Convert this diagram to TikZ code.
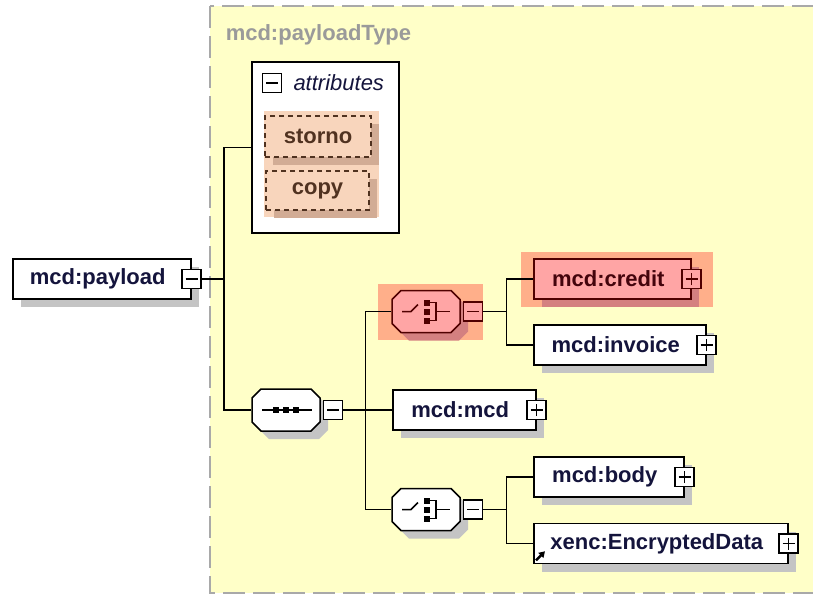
\documentclass[tikz,border=0pt]{standalone}
\usepackage{fontspec}
\setmainfont{Liberation Sans}
\usetikzlibrary{shadows,arrows.meta,positioning}

\definecolor{xsdyellow}{HTML}{FFFFC8}
\definecolor{xsdgray}{HTML}{9A9A9A}
\definecolor{xsdnavy}{HTML}{14143C}
\definecolor{shadowgray}{HTML}{C4C4C4}
\definecolor{attrbg}{HTML}{F8D5BC}
\definecolor{attrshadow}{HTML}{D2AC95}
\definecolor{attrtext}{HTML}{503220}
\definecolor{hilite}{HTML}{FFAF8A}
\definecolor{redfill}{HTML}{FFA5A5}
\definecolor{redline}{HTML}{500000}
\definecolor{redshadow}{HTML}{D48080}

\begin{document}
\begin{tikzpicture}[x=1pt,y=-1pt,line width=1.5pt,
  shd/.style={drop shadow={shadow xshift=8pt,shadow yshift=-8pt,fill=#1,opacity=1}},
  elem/.style={rectangle, draw, fill=white, minimum height=40pt, inner sep=0pt, anchor=west,
    font=\fontsize{22}{26}\selectfont\bfseries, text=xsdnavy, execute at end node=\hspace*{8pt}, shd=#1},
  elem/.default=shadowgray,
  pmbox/.style={rectangle, draw=#1, fill=white, minimum size=19pt, inner sep=0pt},
  pbox/.style={pmbox=#1, path picture={\draw[#1,line width=1.5pt]
    ([xshift=-6pt]path picture bounding box.center) -- ([xshift=6pt]path picture bounding box.center)
    ([yshift=-6pt]path picture bounding box.center) -- ([yshift=6pt]path picture bounding box.center);}},
  pbox/.default=black,
  mbox/.style={pmbox=#1, path picture={\draw[#1,line width=1.5pt]
    ([xshift=-6pt]path picture bounding box.center) -- ([xshift=6pt]path picture bounding box.center);}},
  mbox/.default=black,
  octbox/.style={rectangle, minimum width=68pt, minimum height=42pt, inner sep=0pt},
  octline/.style={shd=#1},
  octline/.default=shadowgray,
  attr/.style={rectangle, draw=attrtext, dash pattern=on 5pt off 4pt, fill=attrbg, inner sep=0pt,
    font=\fontsize{22}{26}\selectfont\bfseries, text=attrtext, shd=attrshadow}]

  \useasboundingbox (0,0) rectangle (813,595);

  % complex type area
  \draw[draw=xsdgray!85, fill=xsdyellow, line width=2pt, dash pattern=on 22pt off 8pt] (210,6) rectangle (840,593);
  \node (typename) [anchor=west, inner sep=3pt, text=xsdgray, font=\fontsize{22}{26}\selectfont\bfseries] at (222,35) {mcd:payloadType};

  % attributes
  \node (attrs) [rectangle, draw, fill=white, minimum width=147pt, minimum height=171pt, inner sep=0pt] at (325.5,147.5) {};
  \node (attrpm) [mbox] at (272,83) {};
  \node (attrlbl) [right=7.5pt of attrpm, inner sep=3pt, text=xsdnavy, font=\fontsize{22}{26}\selectfont\itshape] {attributes};
  \fill[attrbg] (264,111) rectangle (379,217);
  \node (storno) [attr, minimum width=106pt, minimum height=41pt] at (318,136.5) {storno};
  \node (copy) [attr, minimum width=103pt, minimum height=39pt] at (317.5,190.5) {copy};

  % highlights
  \fill[hilite] (521,252) rectangle (713,307);
  \fill[hilite] (378,284) rectangle (483,340);

  % elements
  \node (payload) [elem, minimum width=178pt] at (12,279) {mcd:payload};
  \node (pmpay) [mbox] at (payload.east) {};
  \node (credit) [elem=redshadow, fill=redfill, draw=redline, text=redline!80!xsdnavy, minimum width=157pt] at (533,279) {mcd:credit};
  \node (pmcredit) [pbox=redline, fill=redfill] at (credit.east) {};
  \node (invoice) [elem, minimum width=172pt] at (533,345) {mcd:invoice};
  \node (pminvoice) [pbox] at (invoice.east) {};
  \node (mcd) [elem, minimum width=143pt] at (392,410) {mcd:mcd};
  \node (pmmcd) [pbox] at (mcd.east) {};
  \node (body) [elem, minimum width=150pt] at (533,477) {mcd:body};
  \node (pmbody) [pbox] at (body.east) {};
  \node (encdata) [elem, minimum width=254pt] at (533,543.5) {xenc:EncryptedData};
  \node (pmenc) [pbox] at (encdata.east) {};
  \draw[line width=2.5pt, -{Triangle[length=6pt,width=7pt]}] ([shift={(3pt,4pt)}]encdata.south west) -- ++(9pt,9pt);

  % compositors
  \node (seq) [octbox] at (286,410) {};
  \node (ch1) [octbox] at (426,311.5) {};
  \node (ch2) [octbox] at (426,509.5) {};

  \begin{scope}[shift={(seq.center)}]
    \filldraw[octline, fill=white] (-34,-12) -- (-25,-21) -- (25,-21) -- (34,-12) -- (34,12) -- (25,21) -- (-25,21) -- (-34,12) -- cycle;
    \draw (-24,0) -- (26,0);
    \fill (-13,-3) rectangle ++(6,6);
    \fill (-3,-3) rectangle ++(6,6);
    \fill (7,-3) rectangle ++(6,6);
  \end{scope}
  \begin{scope}[shift={(ch1.center)}, redline]
    \filldraw[octline=redshadow, fill=redfill] (-34,-12) -- (-25,-21) -- (25,-21) -- (34,-12) -- (34,12) -- (25,21) -- (-25,21) -- (-34,12) -- cycle;
    \draw (-24,0) -- (-15,0) -- (-8,-7);
    \fill (-2,-12) rectangle ++(6,6);
    \fill (-2,-3) rectangle ++(6,6);
    \fill (-2,6) rectangle ++(6,6);
    \draw (4,-9) -- (10,-9) -- (10,9) -- (4,9);
    \draw (10,0) -- (24,0);
  \end{scope}
  \begin{scope}[shift={(ch2.center)}]
    \filldraw[octline, fill=white] (-34,-12) -- (-25,-21) -- (25,-21) -- (34,-12) -- (34,12) -- (25,21) -- (-25,21) -- (-34,12) -- cycle;
    \draw (-24,0) -- (-15,0) -- (-8,-7);
    \fill (-2,-12) rectangle ++(6,6);
    \fill (-2,-3) rectangle ++(6,6);
    \fill (-2,6) rectangle ++(6,6);
    \draw (4,-9) -- (10,-9) -- (10,9) -- (4,9);
    \draw (10,0) -- (24,0);
  \end{scope}

  \node (pmseq) [mbox, right=2pt of seq] {};
  \node (pmch1) [mbox=redline, fill=redfill, right=2pt of ch1] {};
  \node (pmch2) [mbox, right=2pt of ch2] {};

  % connectors
  \coordinate (j1) at ([xshift=22pt]pmpay.east);
  \coordinate (j2) at ([xshift=22pt]pmseq.east);
  \coordinate (j3) at ([xshift=23pt]pmch1.east);
  \coordinate (j4) at ([xshift=23pt]pmch2.east);
  \draw (pmpay.east) -- (j1);
  \draw (attrs.west) -| (j1) |- (seq.west);
  \draw (pmseq.east) -- (mcd.west);
  \draw (ch1.west) -| (j2) |- (ch2.west);
  \draw (pmch1.east) -- (j3);
  \draw (credit.west) -| (j3) |- (invoice.west);
  \draw (pmch2.east) -- (j4);
  \draw (body.west) -| (j4) |- (encdata.west);
\end{tikzpicture}
\end{document}
